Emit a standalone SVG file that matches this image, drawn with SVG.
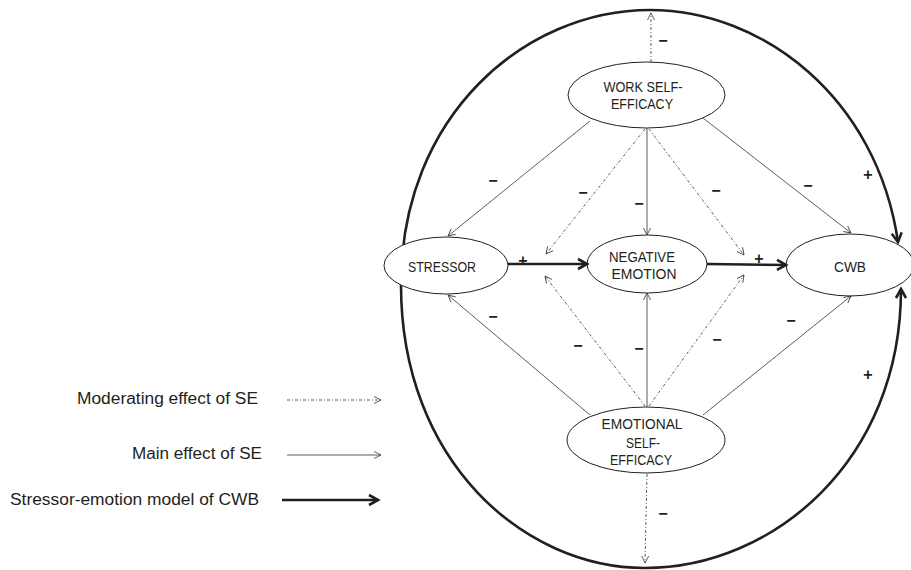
<svg xmlns="http://www.w3.org/2000/svg" width="911" height="570" viewBox="0 0 911 570">
<style>
text{font-family:"Liberation Sans",Arial,sans-serif;fill:#231f20}
.node ellipse{fill:#fff;stroke:#231f20;stroke-width:1}
.lbl{font-size:15.5px;text-anchor:middle}
.leg{font-size:16px;text-anchor:end}
.sign{font-size:16px;font-weight:bold;text-anchor:middle}
.main{stroke:#333;stroke-width:0.8;fill:none;marker-end:url(#thin)}
.mod{stroke:#333;stroke-width:0.8;fill:none;stroke-dasharray:3 2 1 2;marker-end:url(#thin)}
.bold{stroke:#231f20;stroke-width:2.6;fill:none;marker-end:url(#boldA)}
.loop{stroke:#231f20;stroke-width:2.6;fill:none;marker-start:url(#boldA);marker-end:url(#boldA)}
</style>
<defs>
<marker id="thin" markerUnits="userSpaceOnUse" viewBox="-1 -1 10 10" refX="7" refY="3.5" markerWidth="10" markerHeight="10" orient="auto-start-reverse" overflow="visible">
<path d="M0,0 L7,3.5 L0,7" fill="none" stroke="#333" stroke-width="0.8"/>
</marker>
<marker id="boldA" markerUnits="userSpaceOnUse" viewBox="-2 -2 14 14" refX="9" refY="5" markerWidth="14" markerHeight="14" orient="auto-start-reverse" overflow="visible">
<path d="M0,0 L9,5 L0,10" fill="none" stroke="#231f20" stroke-width="2.6"/>
</marker>
</defs>
<rect width="911" height="570" fill="#fff"/>
<g id="outer-loop">
<path class="loop" d="M898,242 C877,98 763,10 650,10 C525.5,10 401,115 401,285 C401,460.5 523,568 645,568 C773,568 901,460.5 901,289"/>
</g>
<g id="nodes">
<g id="work-self-efficacy" class="node">
<ellipse cx="646.5" cy="95" rx="78.5" ry="33"/>
<text class="lbl" x="643" y="92" textLength="79" lengthAdjust="spacingAndGlyphs">WORK SELF-</text>
<text class="lbl" x="642" y="109" textLength="62" lengthAdjust="spacingAndGlyphs">EFFICACY</text>
</g>
<g id="stressor" class="node">
<ellipse cx="446" cy="265.5" rx="62" ry="28.5"/>
<text class="lbl" x="442" y="272" textLength="68" lengthAdjust="spacingAndGlyphs">STRESSOR</text>
</g>
<g id="negative-emotion" class="node">
<ellipse cx="647" cy="264" rx="60" ry="29"/>
<text class="lbl" x="642" y="262" textLength="66" lengthAdjust="spacingAndGlyphs">NEGATIVE</text>
<text class="lbl" x="644" y="279" textLength="65" lengthAdjust="spacingAndGlyphs">EMOTION</text>
</g>
<g id="cwb" class="node">
<ellipse cx="850" cy="265" rx="64" ry="31"/>
<text class="lbl" x="850" y="272" textLength="32" lengthAdjust="spacingAndGlyphs">CWB</text>
</g>
<g id="emotional-self-efficacy" class="node">
<ellipse cx="646" cy="440" rx="79" ry="33"/>
<text class="lbl" x="642" y="429" textLength="81" lengthAdjust="spacingAndGlyphs">EMOTIONAL</text>
<text class="lbl" x="643" y="448" textLength="34" lengthAdjust="spacingAndGlyphs">SELF-</text>
<text class="lbl" x="641" y="465" textLength="62" lengthAdjust="spacingAndGlyphs">EFFICACY</text>
</g>
</g>
<g id="connectors">
<line class="main" x1="590" y1="121" x2="448" y2="236"/>
<line class="main" x1="647" y1="128" x2="647" y2="235"/>
<line class="main" x1="703" y1="118" x2="851" y2="233"/>
<line class="main" x1="590" y1="415" x2="448" y2="295"/>
<line class="main" x1="647" y1="407" x2="647" y2="293"/>
<line class="main" x1="703" y1="415" x2="851" y2="296"/>
<line class="mod" x1="645" y1="129" x2="546" y2="254"/>
<line class="mod" x1="649" y1="129" x2="744" y2="255"/>
<line class="mod" x1="645" y1="406" x2="545" y2="276"/>
<line class="mod" x1="649" y1="406" x2="744" y2="275"/>
<line class="mod" x1="651" y1="62" x2="651" y2="13"/>
<line class="mod" x1="647" y1="474" x2="645" y2="563"/>
<line class="bold" x1="508" y1="264" x2="587" y2="264"/>
<line class="bold" x1="707" y1="264" x2="786" y2="265"/>
</g>
<g id="signs">
<text class="sign" x="663" y="46">−</text>
<text class="sign" x="663" y="519">−</text>
<text class="sign" x="493" y="186">−</text>
<text class="sign" x="583" y="198">−</text>
<text class="sign" x="639" y="209">−</text>
<text class="sign" x="716" y="196">−</text>
<text class="sign" x="808" y="191">−</text>
<text class="sign" x="868" y="180">+</text>
<text class="sign" x="493" y="322">−</text>
<text class="sign" x="578" y="351">−</text>
<text class="sign" x="639" y="354">−</text>
<text class="sign" x="717" y="345">−</text>
<text class="sign" x="791" y="326">−</text>
<text class="sign" x="868" y="380">+</text>
<text class="sign" x="523" y="266">+</text>
<text class="sign" x="759" y="264">+</text>
</g>
<g id="legend">
<text class="leg" x="258" y="404" textLength="181" lengthAdjust="spacingAndGlyphs">Moderating effect of SE</text>
<line class="mod" x1="287" y1="400" x2="381" y2="400"/>
<text class="leg" x="262" y="459" textLength="130" lengthAdjust="spacingAndGlyphs">Main effect of SE</text>
<line class="main" x1="287" y1="455" x2="381" y2="455"/>
<text class="leg" x="259" y="505" textLength="249" lengthAdjust="spacingAndGlyphs">Stressor-emotion model of CWB</text>
<line class="bold" x1="282" y1="500" x2="378" y2="500"/>
</g>
</svg>
